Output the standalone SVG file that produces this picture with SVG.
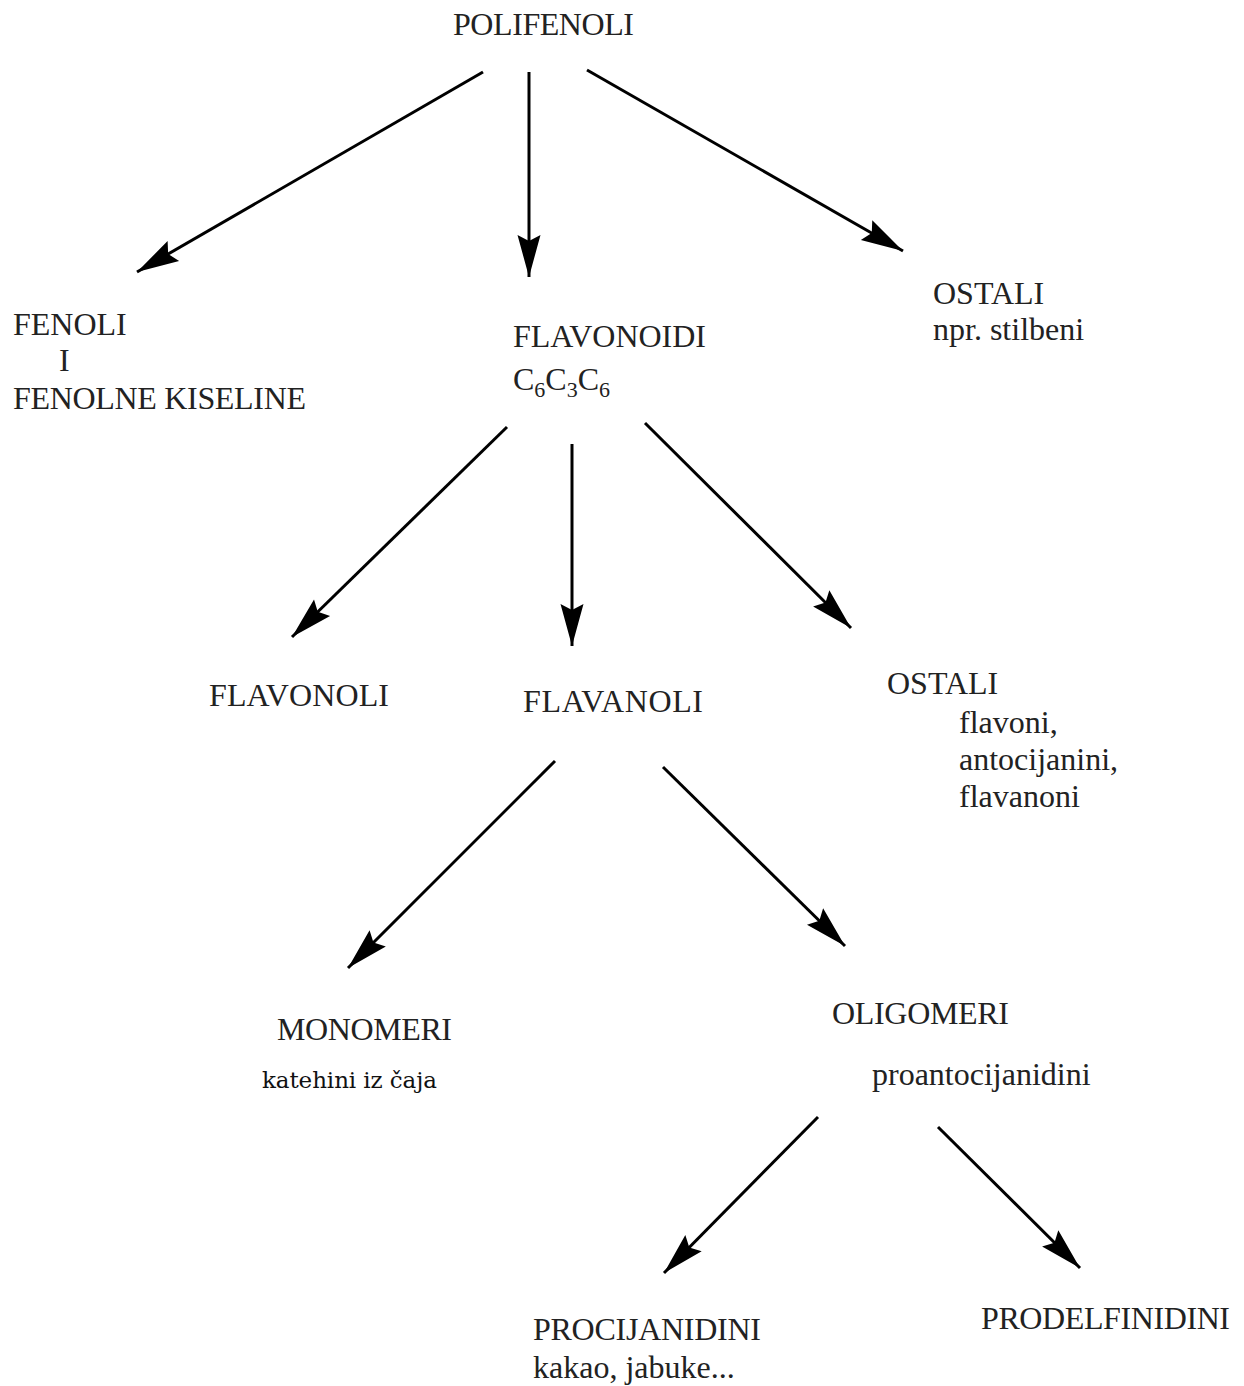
<svg xmlns="http://www.w3.org/2000/svg" width="1244" height="1386" viewBox="0 0 1244 1386">
<style>
.t{font-family:"Liberation Serif","Times New Roman",serif;font-size:32px;fill:#222}
.s{font-family:"DejaVu Serif",serif;font-size:23px;fill:#111}
.c line{stroke:#000;stroke-width:3;marker-end:url(#ah)}
</style>
<defs>
<marker id="ah" markerUnits="userSpaceOnUse" markerWidth="50" markerHeight="30" viewBox="-44 -15 50 30" refX="0" refY="0" orient="auto">
<path d="M0,0 L-42,-11.5 L-36,0 L-42,11.5 Z" fill="#000"/>
</marker>
</defs>
<rect width="1244" height="1386" fill="#fff"/>
<g class="c" id="connectors">
<line x1="483" y1="72" x2="137" y2="272"/>
<line x1="529" y1="72" x2="529" y2="277"/>
<line x1="587" y1="70" x2="903" y2="251"/>
<line x1="507" y1="427" x2="292" y2="637"/>
<line x1="572" y1="444" x2="572" y2="646"/>
<line x1="645" y1="423" x2="851" y2="628"/>
<line x1="555" y1="761" x2="348" y2="968"/>
<line x1="663" y1="767" x2="845" y2="946"/>
<line x1="818" y1="1117" x2="664" y2="1273"/>
<line x1="938" y1="1127" x2="1080" y2="1268"/>
</g>
<g id="polifenoli"><text class="t" x="453" y="35" textLength="181">POLIFENOLI</text></g>
<g id="fenoli">
<text class="t" x="13" y="335">FENOLI</text>
<text class="t" x="59" y="371">I</text>
<text class="t" x="13" y="409" textLength="293">FENOLNE KISELINE</text>
</g>
<g id="flavonoidi">
<text class="t" x="513" y="347" textLength="193">FLAVONOIDI</text>
<text class="t" x="513" y="390">C<tspan font-size="22" dy="7">6</tspan><tspan dy="-7">C</tspan><tspan font-size="22" dy="7">3</tspan><tspan dy="-7">C</tspan><tspan font-size="22" dy="7">6</tspan></text>
</g>
<g id="ostali1">
<text class="t" x="933" y="304">OSTALI</text>
<text class="t" x="933" y="340">npr. stilbeni</text>
</g>
<g id="flavonoli"><text class="t" x="209" y="706" textLength="180">FLAVONOLI</text></g>
<g id="flavanoli"><text class="t" x="523" y="712" textLength="180">FLAVANOLI</text></g>
<g id="ostali2">
<text class="t" x="887" y="694">OSTALI</text>
<text class="t" x="959" y="733">flavoni,</text>
<text class="t" x="959" y="770">antocijanini,</text>
<text class="t" x="959" y="807">flavanoni</text>
</g>
<g id="monomeri">
<text class="t" x="277" y="1040" textLength="175">MONOMERI</text>
<text class="s" x="262" y="1088" textLength="175">katehini iz čaja</text>
</g>
<g id="oligomeri">
<text class="t" x="832" y="1024" textLength="177">OLIGOMERI</text>
<text class="t" x="872" y="1085">proantocijanidini</text>
</g>
<g id="procijanidini">
<text class="t" x="533" y="1340" textLength="228">PROCIJANIDINI</text>
<text class="t" x="533" y="1378">kakao, jabuke...</text>
</g>
<g id="prodelfinidini"><text class="t" x="981" y="1329" textLength="249">PRODELFINIDINI</text></g>
</svg>
